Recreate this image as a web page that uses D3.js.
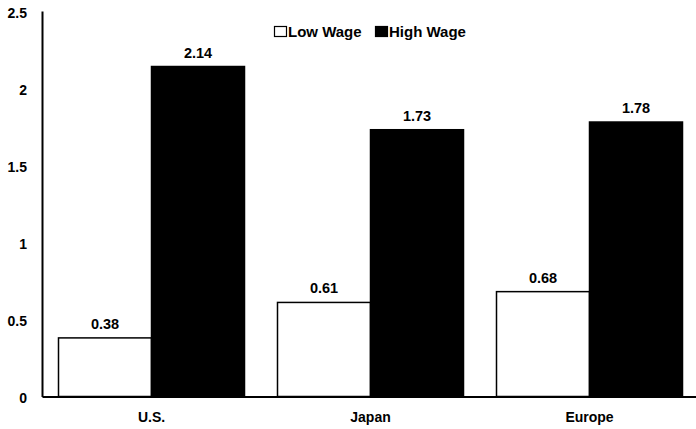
<!DOCTYPE html>
<html>
<head>
<meta charset="utf-8">
<script src="https://cdn.jsdelivr.net/npm/d3@7"></script>
<style>
  html, body { margin: 0; padding: 0; background: #fff; }
  svg { display: block; font-family: "Liberation Sans", Arial, sans-serif; }
  text { fill: #000; font-weight: bold; }
</style>
</head>
<body>
<svg id="chart" width="696" height="429"></svg>
<script>
// Regions compared
const categories = ["U.S.", "Japan", "Europe"];
const seriesNames = ["Low Wage", "High Wage"];
const lowWage = [0.38, 0.61, 0.68];
const highWage = [2.14, 1.73, 1.78];
const yTicks = [0, 0.5, 1, 1.5, 2, 2.5];
const yTickLabels = ["0", "0.5", "1", "1.5", "2", "2.5"];
const seriesFill = ["#ffffff", "#000000"];

const svg = d3.select("#chart");
const margin = { left: 42, right: -3, top: 11, bottom: 32 };
const W = 696, H = 429;
const FONT = "Liberation Sans, Arial, sans-serif";

const x = d3.scaleBand()
  .domain(categories)
  .range([margin.left, W - margin.right])
  .paddingInner(0)
  .paddingOuter(0);

const y = d3.scaleLinear()
  .domain([0, 2.5])
  .range([H - margin.bottom - 0.5, margin.top]);

const barW = 93;
const xs = d3.scaleBand()
  .domain(seriesNames)
  .range([0, barW * 2]);

const rows = categories.map((c, i) => ({ cat: c, values: [lowWage[i], highWage[i]] }));

const groups = svg.selectAll("g.grp")
  .data(rows)
  .join("g")
  .attr("class", "grp")
  .attr("transform", d => `translate(${x(d.cat) + x.bandwidth() / 2 - barW},0)`);

groups.selectAll("rect")
  .data(d => d.values.map((v, j) => ({ v, s: seriesNames[j], j })))
  .join("rect")
  .attr("x", d => xs(d.s))
  .attr("y", d => y(d.v))
  .attr("width", xs.bandwidth())
  .attr("height", d => y(0) - y(d.v))
  .attr("fill", d => seriesFill[d.j])
  .attr("stroke", "#000")
  .attr("stroke-width", 1.5);

// value labels above each bar
groups.selectAll("text.val")
  .data(d => d.values.map((v, j) => ({ v, s: seriesNames[j] })))
  .join("text")
  .attr("class", "val")
  .attr("x", d => xs(d.s) + xs.bandwidth() / 2)
  .attr("y", d => y(d.v) - 9)
  .attr("text-anchor", "middle")
  .attr("font-size", 14.5)
  .text(d => d.v.toFixed(2));

// y axis
const yAxis = d3.axisLeft(y)
  .tickValues(yTicks)
  .tickFormat((d, i) => yTickLabels[i])
  .tickSize(0)
  .tickPadding(15);

const gy = svg.append("g")
  .attr("transform", `translate(${margin.left},0)`)
  .call(yAxis);
gy.select(".domain").attr("stroke", "#000").attr("stroke-width", 2);
gy.selectAll("text")
  .attr("font-size", 14)
  .attr("font-family", FONT)
  .attr("font-weight", "bold")
  .attr("fill", "#000")
  .attr("dy", "0.45em");

// x axis
const xAxis = d3.axisBottom(x).tickSize(0).tickPadding(16);
const gx = svg.append("g")
  .attr("transform", `translate(0,${y(0)})`)
  .call(xAxis);
gx.select(".domain").attr("stroke", "#000").attr("stroke-width", 2);
gx.selectAll("text")
  .attr("font-size", 14)
  .attr("font-family", FONT)
  .attr("font-weight", "bold")
  .attr("fill", "#000");

// legend
const legendItems = [
  { name: seriesNames[0], fill: seriesFill[0], x: 274 },
  { name: seriesNames[1], fill: seriesFill[1], x: 375 }
];
const lg = svg.append("g").attr("class", "legend");
lg.selectAll("rect")
  .data(legendItems)
  .join("rect")
  .attr("x", d => d.x + 0.5)
  .attr("y", 26.5)
  .attr("width", 12)
  .attr("height", 10)
  .attr("fill", d => d.fill)
  .attr("stroke", "#000")
  .attr("stroke-width", 1.2);
lg.selectAll("text")
  .data(legendItems)
  .join("text")
  .attr("x", d => d.x + 14)
  .attr("y", 37)
  .attr("font-size", 15)
  .text(d => d.name);
</script>
</body>
</html>
